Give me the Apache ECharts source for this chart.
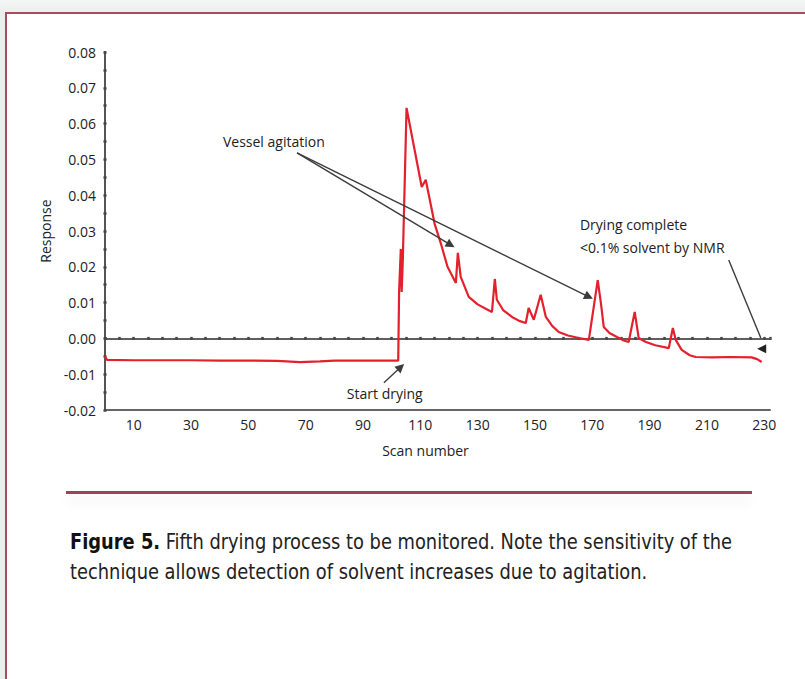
<!DOCTYPE html>
<html><head><meta charset="utf-8">
<script src="https://cdn.jsdelivr.net/npm/echarts@6/dist/echarts.min.js"></script>
<style>
html,body{margin:0;padding:0;width:805px;height:679px;overflow:hidden;background:#eef0f0;}
#bg{position:absolute;left:0;top:0;width:805px;height:679px;background:linear-gradient(#f5f6f6,#eceeee 12px);}
#frame{position:absolute;left:5px;top:12px;width:840px;height:720px;border:2px solid #a84b5f;background:#fff;box-sizing:border-box;}
#sep{position:absolute;left:66px;top:491px;width:686px;height:3px;background:#a5405a;box-shadow:0 8px 12px rgba(0,0,0,0.09);}
#cap{position:absolute;left:70px;top:527px;font-family:'Liberation Sans Narrow','DejaVu Sans Condensed',sans-serif;font-size:21px;line-height:30px;color:#222;white-space:nowrap;transform-origin:0 0;}
#cap b{font-weight:bold;color:#111;}
#chart{position:absolute;left:0;top:0;width:805px;height:679px;}
</style></head>
<body>
<div id="bg"></div>
<div id="frame"></div>
<div id="sep"></div>
<div id="cap"><span id="l1"><b>Figure 5.</b> Fifth drying process to be monitored. Note the sensitivity of the</span><br><span id="l2">technique allows detection of solvent increases due to agitation.</span></div>
<div id="chart"></div>
<script>
// ---- data ----
const scans = [0, 0.7, 10, 20, 30, 40, 50, 60, 68, 75, 80, 90, 100, 102.3, 102.6, 103.2, 103.5, 103.9, 105.2, 108, 110.5, 111.9, 112.6, 115, 117.1, 119.5, 122.4, 123.1, 124.1, 126.9, 130, 133, 135, 136, 136.7, 139, 142, 144.5, 146.8, 147.8, 149.6, 152, 153.8, 156, 158.3, 161.5, 165.3, 168.8, 171.9, 173, 174, 176, 178.6, 181, 182.7, 184.8, 186.2, 188.7, 192, 196.7, 198.1, 199.1, 201.2, 204, 206.1, 212, 218, 225.6, 227.5, 229.1];
const response = [-0.005, -0.006, -0.0061, -0.0061, -0.0061, -0.0062, -0.0062, -0.0063, -0.0066, -0.0064, -0.0062, -0.0062, -0.0062, -0.0062, 0.013, 0.025, 0.013, 0.022, 0.0644, 0.0527, 0.0423, 0.0443, 0.0415, 0.032, 0.0267, 0.020, 0.0155, 0.0239, 0.0172, 0.0116, 0.0095, 0.0082, 0.0074, 0.0166, 0.0108, 0.0078, 0.006, 0.0049, 0.0043, 0.0085, 0.0052, 0.0122, 0.006, 0.0035, 0.0018, 0.0008, 0.0001, -0.0004, 0.0163, 0.0099, 0.0032, 0.0015, 0.0004, -0.0006, -0.001, 0.0074, 0.0001, -0.001, -0.0019, -0.0027, 0.0029, -0.0004, -0.0032, -0.0047, -0.0052, -0.0053, -0.0052, -0.0053, -0.0058, -0.0066];
const xTickLabels = [10, 30, 50, 70, 90, 110, 130, 150, 170, 190, 210, 230];
const yTickLabels = [-0.02, -0.01, 0.00, 0.01, 0.02, 0.03, 0.04, 0.05, 0.06, 0.07, 0.08];
// annotation anchors (data coordinates)
const vesselText = [58.9, 0.0549];
const vesselFrom = [67, 0.0518];
const vesselTo1 = [120.6, 0.0261];
const vesselTo2 = [168.8, 0.0116];
const startText = [97.6, -0.0153];
const startFrom = [97.3, -0.0124];
const startTo = [103.2, -0.0080];
const doneText1 = [165.7, 0.0317];
const doneText2 = [165.7, 0.0253];
const doneFrom = [217.6, 0.0219];
const doneTo = [228.8, 0.0001];
const doneHead = [229.1, -0.0029];

const FONT = "'Open Sans', 'Noto Sans', sans-serif";
const AX = '#555';
const XMIN = 0, XMAX = 232, YMIN = -0.02, YMAX = 0.08;

const chart = echarts.init(document.getElementById('chart'), null, {renderer: 'svg'});
const lineData = scans.map((s, i) => [s, response[i]]);
const txt = (coord, text, pos) => ({
  coord: coord, symbol: 'circle', symbolSize: 0,
  label: {show: true, formatter: text, position: pos || 'inside', distance: 0,
    color: '#222', fontSize: 14, fontFamily: FONT}
});
const dotTick = {show: true, length: 1.5, lineStyle: {color: '#444', width: 2.5}};

chart.setOption({
  animation: false,
  backgroundColor: 'transparent',
  grid: {left: 105, right: 35, top: 52, bottom: 269, containLabel: false},
  xAxis: [
    {type: 'value', min: XMIN, max: XMAX, position: 'bottom',
     axisLine: {show: true, onZero: false, lineStyle: {color: '#666', width: 2}},
     axisTick: {show: false},
     axisLabel: {customValues: xTickLabels, fontSize: 14, color: '#222', fontFamily: FONT, margin: 7},
     splitLine: {show: false},
     name: 'Scan number', nameLocation: 'middle', nameGap: 33,
     nameTextStyle: {fontSize: 14, color: '#222', fontFamily: FONT, padding: [0, 24, 0, 0]}},
    {type: 'value', min: XMIN, max: XMAX, interval: 5, position: 'bottom',
     axisLine: {show: true, onZero: true, onZeroAxisIndex: 0, lineStyle: {color: AX, width: 1.5}},
     axisTick: dotTick,
     axisLabel: {show: false}, splitLine: {show: false}},
    {type: 'value', min: XMIN, max: XMAX, interval: 5, position: 'top',
     axisLine: {show: true, onZero: true, onZeroAxisIndex: 0, lineStyle: {color: AX, width: 1.5}},
     axisTick: dotTick,
     axisLabel: {show: false}, splitLine: {show: false}}
  ],
  yAxis: [
    {type: 'value', min: YMIN, max: YMAX, interval: 0.005, position: 'left',
     axisLine: {show: true, onZero: false, lineStyle: {color: AX, width: 2}},
     axisTick: dotTick,
     axisLabel: {customValues: yTickLabels, formatter: v => v.toFixed(2), fontSize: 14, color: '#222', fontFamily: FONT, margin: 9},
     splitLine: {show: false},
     name: 'Response', nameLocation: 'middle', nameGap: 52,
     nameTextStyle: {fontSize: 14, color: '#222', fontFamily: FONT}},
    {type: 'value', min: YMIN, max: YMAX, interval: 0.005, position: 'right',
     axisLine: {show: true, onZero: true, onZeroAxisIndex: 0, lineStyle: {color: AX, width: 2}},
     axisTick: dotTick,
     axisLabel: {show: false}, splitLine: {show: false}}
  ],
  series: [{
    type: 'line', xAxisIndex: 0, yAxisIndex: 0, data: lineData,
    showSymbol: false, symbol: 'none', smooth: false,
    lineStyle: {color: '#e3202c', width: 2.2}, z: 3,
    markLine: {
      silent: true, symbol: ['none', 'triangle'], symbolSize: 9,
      lineStyle: {color: '#3c3c3c', width: 1.4, type: 'solid'},
      label: {show: false},
      data: [
        [{coord: vesselFrom}, {coord: vesselTo1}],
        [{coord: vesselFrom}, {coord: vesselTo2}],
        [{coord: startFrom}, {coord: startTo}],
        [{coord: doneFrom}, {coord: doneTo, symbol: 'none'}]
      ]
    },
    markPoint: {
      silent: true,
      data: [
        txt(vesselText, 'Vessel agitation'),
        txt(startText, 'Start drying'),
        txt(doneText1, 'Drying complete', 'right'),
        txt(doneText2, '<0.1% solvent by NMR', 'right'),
        {coord: doneHead, symbol: 'triangle', symbolSize: 9, symbolRotate: 90,
         itemStyle: {color: '#222'}, label: {show: false}}
      ]
    }
  }]
});

// fit the caption width to the reference column
const l1 = document.getElementById('l1');
const w = l1.getBoundingClientRect().width;
if (w > 0) document.getElementById('cap').style.transform = 'scaleX(' + (662 / w) + ')';
</script>
</body></html>
